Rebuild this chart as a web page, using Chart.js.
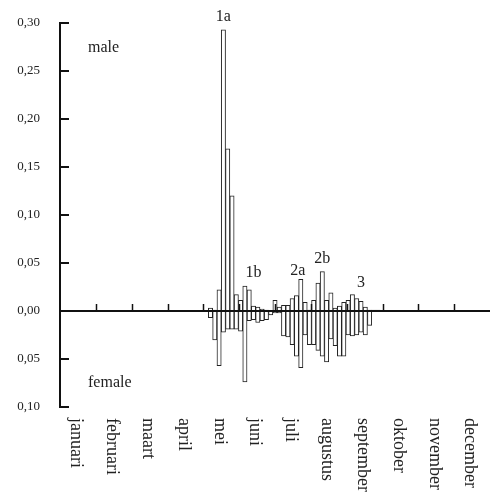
<!DOCTYPE html>
<html>
<head>
<meta charset="utf-8">
<script src="https://cdn.jsdelivr.net/npm/chart.js@4/dist/chart.umd.min.js"></script>
<style>
  html, body { margin: 0; padding: 0; background: #fff; }
</style>
</head>
<body>
<canvas id="chart" width="490" height="494"></canvas>
<script>
// months shown along the bottom, year split in 100 bins
const months = ['januari', 'februari', 'maart', 'april', 'mei', 'juni',
  'juli', 'augustus', 'september', 'oktober', 'november', 'december'];
const binsPerYear = 100;
const firstBin = 35;

// share of catches per bin, males up and females down
const male = [0.003, 0.001, 0.022, 0.293, 0.169, 0.120, 0.017, 0.011, 0.026, 0.022,
  0.005, 0.004, 0.002, 0.001, 0.000, 0.011, 0.004, 0.006, 0.006, 0.013,
  0.016, 0.033, 0.009, 0.001, 0.011, 0.029, 0.041, 0.011, 0.019, 0.003,
  0.005, 0.009, 0.011, 0.017, 0.013, 0.010, 0.004, 0.001, 0.001, 0.001];
const female = [0.007, 0.030, 0.057, 0.022, 0.019, 0.019, 0.019, 0.021, 0.074, 0.010,
  0.009, 0.012, 0.010, 0.009, 0.004, 0.002, 0.002, 0.026, 0.027, 0.035,
  0.047, 0.059, 0.025, 0.035, 0.035, 0.041, 0.047, 0.053, 0.029, 0.036,
  0.047, 0.047, 0.025, 0.026, 0.025, 0.022, 0.025, 0.015, 0.000, 0.000];

// peak labels
const peakLabels = ['1a', '1b', '2a', '2b', '3'];
const peakBins = [38, 45, 55.3, 61, 70];
const peakValues = [0.306, 0.040, 0.042, 0.054, 0.029];

const serif = "'Liberation Serif', 'DejaVu Serif', serif";
Chart.defaults.font.family = serif;
Chart.defaults.color = '#222';

const binsPerMonth = binsPerYear / months.length;

const decor = {
  id: 'decor',
  afterDatasetsDraw(chart) {
    const { ctx, chartArea: area } = chart;
    const x = chart.scales.x;
    const y = chart.scales.y;
    const y0 = y.getPixelForValue(0);
    ctx.save();
    ctx.strokeStyle = '#111';

    // zero line
    ctx.lineWidth = 2;
    ctx.beginPath();
    ctx.moveTo(area.left, y0);
    ctx.lineTo(area.right, y0);
    ctx.stroke();

    // month boundaries
    ctx.lineWidth = 1.5;
    for (let k = 1; k < months.length; k++) {
      const px = Math.round(x.getPixelForValue(k * binsPerMonth)) + 0.5;
      ctx.beginPath();
      ctx.moveTo(px, y0);
      ctx.lineTo(px, y0 - 7);
      ctx.stroke();
    }

    // inward y ticks
    ctx.lineWidth = 2;
    y.ticks.forEach(t => {
      const py = Math.round(y.getPixelForValue(t.value));
      ctx.beginPath();
      ctx.moveTo(area.left, py);
      ctx.lineTo(area.left + 9, py);
      ctx.stroke();
    });

    // month names, turned clockwise
    ctx.fillStyle = '#222';
    ctx.font = '18px ' + serif;
    ctx.textAlign = 'left';
    ctx.textBaseline = 'middle';
    months.forEach((m, k) => {
      const px = x.getPixelForValue((k + 0.5) * binsPerMonth) - 2;
      ctx.save();
      ctx.translate(px, area.bottom + 11);
      ctx.rotate(Math.PI / 2);
      ctx.fillText(m, 0, 0);
      ctx.restore();
    });

    // male / female
    ctx.font = '16px ' + serif;
    ctx.fillText('male', area.left + 28, area.top + 25);
    ctx.fillText('female', area.left + 28, area.bottom - 24);

    // peaks
    ctx.textAlign = 'center';
    peakLabels.forEach((lab, i) => {
      ctx.fillText(lab, x.getPixelForValue(peakBins[i]), y.getPixelForValue(peakValues[i]));
    });
    ctx.restore();
  }
};

const barStyle = {
  backgroundColor: '#fff',
  borderColor: '#222',
  borderWidth: 1,
  borderSkipped: false,
  categoryPercentage: 1,
  barPercentage: 1
};

new Chart(document.getElementById('chart'), {
  type: 'bar',
  data: {
    datasets: [
      Object.assign({ label: 'male', data: male.map((v, i) => ({ x: firstBin + i, y: v })) }, barStyle),
      Object.assign({ label: 'female', data: female.map((v, i) => ({ x: firstBin + i, y: -v })) }, barStyle)
    ]
  },
  options: {
    responsive: false,
    animation: false,
    devicePixelRatio: 1,
    layout: { padding: { top: 23, bottom: 87, left: 0, right: 0 } },
    plugins: { legend: { display: false }, tooltip: { enabled: false } },
    scales: {
      x: {
        type: 'linear',
        min: 0,
        max: binsPerYear,
        offset: false,
        stacked: true,
        display: false
      },
      y: {
        min: -0.1,
        max: 0.3,
        stacked: true,
        grid: { display: false, drawTicks: true, tickLength: 16 },
        border: { display: true, color: '#111', width: 2 },
        ticks: {
          stepSize: 0.05,
          padding: 4,
          font: { size: 13 },
          color: '#222',
          callback: v => Math.abs(v).toFixed(2).replace('.', ',')
        },
        afterFit: scale => { scale.width = 60; }
      }
    }
  },
  plugins: [decor]
});
</script>
</body>
</html>
